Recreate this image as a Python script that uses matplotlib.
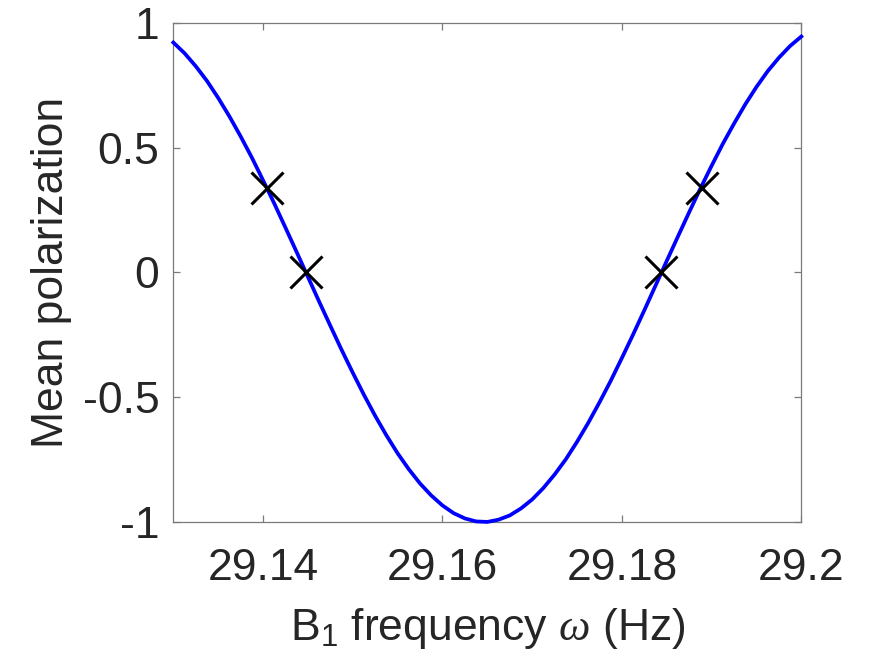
import numpy as np
import matplotlib.pyplot as plt

plt.rcParams['font.family'] = ['Liberation Sans', 'DejaVu Sans']
plt.rcParams['mathtext.fontset'] = 'custom'
plt.rcParams['mathtext.rm'] = 'Liberation Sans'
plt.rcParams['mathtext.it'] = 'Liberation Serif:italic'

# B1 frequency sweep (Hz) and mean polarization
freq = [29.13000, 29.13125, 29.13250, 29.13375, 29.13500, 29.13625, 29.13750, 29.13875,
        29.14000, 29.14125, 29.14250, 29.14375, 29.14500, 29.14625, 29.14750, 29.14875,
        29.15000, 29.15125, 29.15250, 29.15375, 29.15500, 29.15625, 29.15750, 29.15875,
        29.16000, 29.16125, 29.16250, 29.16375, 29.16500, 29.16625, 29.16750, 29.16875,
        29.17000, 29.17125, 29.17250, 29.17375, 29.17500, 29.17625, 29.17750, 29.17875,
        29.18000, 29.18125, 29.18250, 29.18375, 29.18500, 29.18625, 29.18750, 29.18875,
        29.19000, 29.19125, 29.19250, 29.19375, 29.19500, 29.19625, 29.19750, 29.19875,
        29.20000]
polar = [0.921, 0.878, 0.826, 0.767, 0.699, 0.625, 0.545, 0.460,
         0.369, 0.276, 0.179, 0.081, -0.018, -0.117, -0.214, -0.310,
         -0.402, -0.491, -0.575, -0.653, -0.725, -0.789, -0.846, -0.894,
         -0.934, -0.965, -0.986, -0.998, -1.000, -0.991, -0.974, -0.946,
         -0.910, -0.864, -0.810, -0.749, -0.679, -0.603, -0.521, -0.435,
         -0.343, -0.249, -0.152, -0.053, 0.046, 0.144, 0.241, 0.336,
         0.427, 0.515, 0.596, 0.673, 0.743, 0.806, 0.860, 0.907,
         0.945]

# chosen working points
mark_freq = [29.1404, 29.1448, 29.1844, 29.1889]
mark_polar = [0.336, 0.0, 0.0, 0.336]

xticks = [29.14, 29.16, 29.18, 29.2]
xticklabels = ['29.14', '29.16', '29.18', '29.2']
yticks = [-1, -0.5, 0, 0.5, 1]
yticklabels = ['-1', '-0.5', '0', '0.5', '1']

fig = plt.figure(figsize=(8.71, 6.70), dpi=100)
ax = fig.add_axes([0.199, 0.221, 0.721, 0.745])

ax.plot(freq, polar, color=(0, 0, 1), lw=2.7, clip_on=False, zorder=3,
        solid_joinstyle='round')
ax.plot(mark_freq, mark_polar, 'x', color='k', ms=23, mew=2.2, zorder=4)

ax.set_xlim(29.13, 29.2)
ax.set_ylim(-1, 1)
ax.set_xticks(xticks)
ax.set_xticklabels(xticklabels)
ax.set_yticks(yticks)
ax.set_yticklabels(yticklabels)

for s in ax.spines.values():
    s.set_color('#7a7a7a')
    s.set_linewidth(0.9)
ax.tick_params(direction='in', length=5, width=0.9, color='#7a7a7a',
               top=True, right=True, labelsize=32, labelcolor='#262626')
ax.tick_params(axis='x', pad=19)
ax.tick_params(axis='y', pad=10)

ax.set_xlabel(r'B$_1$ frequency $\omega$ (Hz)', fontsize=32, color='#262626', labelpad=12)
ax.set_ylabel('Mean polarization', fontsize=32, color='#262626', labelpad=8)

plt.savefig('out.png', dpi=100)
plt.close()
